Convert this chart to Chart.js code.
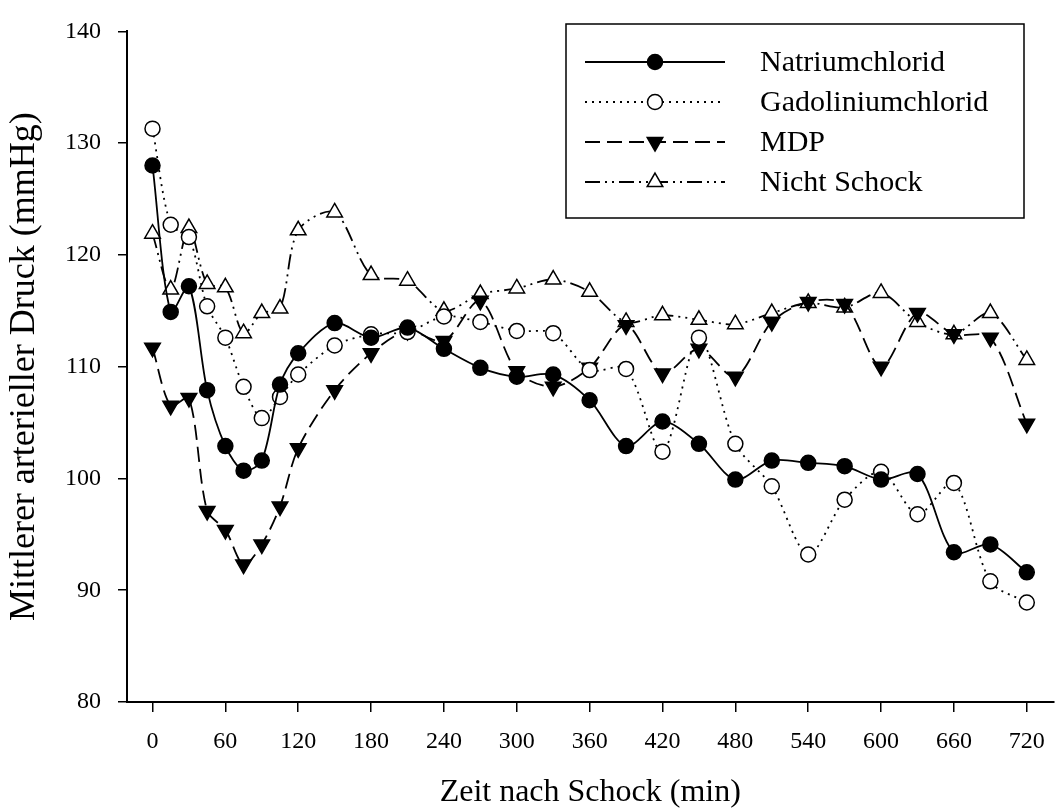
<!DOCTYPE html>
<html>
<head>
<meta charset="utf-8">
<title>Mittlerer arterieller Druck</title>
<script src="https://cdn.jsdelivr.net/npm/chart.js@4/dist/chart.umd.min.js"></script>
<style>
  html, body { margin: 0; padding: 0; background: #fff; }
  canvas { display: block; }
</style>
</head>
<body>
<canvas id="chart" width="1064" height="812"></canvas>
<script>
// Messzeitpunkte (min nach Schock) und MAD-Werte je Gruppe (mmHg)
const TIMES = [0, 15, 30, 45, 60, 75, 90, 105, 120, 150, 180, 210, 240, 270, 300, 330, 360,
               390, 420, 450, 480, 510, 540, 570, 600, 630, 660, 690, 720];
const NATRIUM      = [128.0, 114.9, 117.2, 107.9, 102.9, 100.7, 101.6, 108.4, 111.2, 113.9, 112.6, 113.5, 111.6, 109.9, 109.1,
                      109.3, 107.0, 102.9, 105.1, 103.1, 99.9, 101.6, 101.4, 101.1, 99.9, 100.4, 93.4, 94.1, 91.6];
const GADOLINIUM   = [131.3, 122.7, 121.6, 115.4, 112.6, 108.2, 105.4, 107.3, 109.3, 111.9, 112.9, 113.1, 114.5, 114.0, 113.2,
                      113.0, 109.7, 109.8, 102.4, 112.6, 103.1, 99.3, 93.2, 98.1, 100.6, 96.8, 99.6, 90.8, 88.9];
const MDP          = [111.7, 106.5, 107.2, 97.1, 95.4, 92.3, 94.1, 97.5, 102.7, 107.9, 111.2, 113.2, 112.3, 115.9, 109.6,
                      108.2, 109.9, 113.7, 109.4, 111.6, 109.1, 114.0, 115.8, 115.6, 110.0, 114.8, 112.9, 112.6, 104.9];
const NICHT_SCHOCK = [121.9, 116.9, 122.4, 117.4, 117.1, 113.0, 114.8, 115.2, 122.2, 123.8, 118.2, 117.7, 115.0, 116.5, 117.0,
                      117.8, 116.7, 114.0, 114.6, 114.2, 113.8, 114.8, 115.7, 115.3, 116.6, 114.0, 112.9, 114.8, 110.6];

const LABELS  = ['Natriumchlorid', 'Gadoliniumchlorid', 'MDP', 'Nicht Schock'];
const X_TICKS = [0, 60, 120, 180, 240, 300, 360, 420, 480, 540, 600, 660, 720];
const Y_TICKS = [80, 90, 100, 110, 120, 130, 140];

const FONT = 'Liberation Serif, Times New Roman, serif';

function pts(values) {
  return TIMES.map((t, i) => ({ x: t, y: values[i] }));
}

function series(label, values, style) {
  return Object.assign({
    label,
    data: pts(values),
    borderColor: '#000',
    borderWidth: 1.8,
    pointBorderColor: '#000',
    pointBorderWidth: 1.5,
    pointRadius: 7.5,
    tension: 0.3,
  }, style);
}

const datasets = [
  series(LABELS[0], NATRIUM,      { pointStyle: 'circle', pointBackgroundColor: '#000' }),
  series(LABELS[1], GADOLINIUM,   { pointStyle: 'circle', pointBackgroundColor: '#fff', borderDash: [2, 5] }),
  series(LABELS[2], MDP,          { pointStyle: 'triangle', pointRotation: 180, pointRadius: 9, pointBackgroundColor: '#000', borderDash: [15, 7] }),
  series(LABELS[3], NICHT_SCHOCK, { pointStyle: 'triangle', pointRadius: 9, pointBackgroundColor: '#fff', borderDash: [15, 5, 2, 5, 2, 5] }),
];

// Marker für die Legende (gleiche Formen wie im Diagramm)
function drawMarker(ctx, ds, x, y) {
  const r = ds.pointRadius;
  ctx.beginPath();
  if (ds.pointStyle === 'circle') {
    ctx.arc(x, y, r, 0, Math.PI * 2);
  } else {
    const dir = ds.pointRotation === 180 ? -1 : 1;
    const s = r * Math.sqrt(3) / 2;
    ctx.moveTo(x, y - dir * r);
    ctx.lineTo(x + s, y + dir * r / 2);
    ctx.lineTo(x - s, y + dir * r / 2);
    ctx.closePath();
  }
  ctx.fillStyle = ds.pointBackgroundColor;
  ctx.fill();
  ctx.lineWidth = ds.pointBorderWidth;
  ctx.strokeStyle = '#000';
  ctx.stroke();
}

const legendBox = {
  id: 'legendBox',
  afterDraw(chart) {
    const ctx = chart.ctx;
    ctx.save();
    ctx.fillStyle = '#fff';
    ctx.fillRect(566, 24, 458, 194);
    ctx.strokeStyle = '#000';
    ctx.lineWidth = 1.5;
    ctx.strokeRect(566, 24, 458, 194);

    chart.data.datasets.forEach((ds, i) => {
      const y = 62 + i * 40;
      ctx.setLineDash(ds.borderDash || []);
      ctx.lineWidth = ds.borderWidth;
      ctx.strokeStyle = '#000';
      ctx.beginPath();
      ctx.moveTo(585, y);
      ctx.lineTo(725, y);
      ctx.stroke();
      ctx.setLineDash([]);
      drawMarker(ctx, ds, 655, y);

      ctx.fillStyle = '#000';
      ctx.font = '30px ' + FONT;
      ctx.textAlign = 'left';
      ctx.textBaseline = 'middle';
      ctx.fillText(ds.label, 760, y + 1);
    });
    ctx.restore();
  },
};

new Chart(document.getElementById('chart'), {
  type: 'line',
  data: { datasets },
  plugins: [legendBox],
  options: {
    responsive: false,
    animation: false,
    devicePixelRatio: 1,
    layout: { padding: { top: 22, right: 0, bottom: 0, left: 0 } },
    plugins: {
      legend: { display: false },
      tooltip: { enabled: false },
    },
    scales: {
      x: {
        type: 'linear',
        min: -21,
        max: 742,
        afterBuildTicks: (s) => { s.ticks = X_TICKS.map((v) => ({ value: v })); },
        afterFit: (s) => { s.height = 110; },
        border: { display: true, color: '#000', width: 2 },
        grid: { drawOnChartArea: false, drawTicks: true, tickLength: 10, color: '#000', lineWidth: 1.5 },
        ticks: {
          color: '#000', font: { family: FONT, size: 24 }, padding: 15,
          autoSkip: false, maxRotation: 0,
        },
        title: {
          display: true, text: 'Zeit nach Schock (min)', color: '#000',
          font: { family: FONT, size: 32 }, padding: { top: 0, bottom: 0 },
        },
      },
      y: {
        type: 'linear',
        min: 80,
        max: 140,
        afterBuildTicks: (s) => { s.ticks = Y_TICKS.map((v) => ({ value: v })); },
        afterFit: (s) => { s.width = 127; },
        border: { display: true, color: '#000', width: 2 },
        grid: { drawOnChartArea: false, drawTicks: true, tickLength: 9, color: '#000', lineWidth: 1.5 },
        ticks: { color: '#000', font: { family: FONT, size: 24 }, padding: 17 },
        title: {
          display: true, text: 'Mittlerer arterieller Druck (mmHg)', color: '#000',
          font: { family: FONT, size: 36 }, padding: { top: 3, bottom: 0 },
        },
      },
    },
  },
});
</script>
</body>
</html>
